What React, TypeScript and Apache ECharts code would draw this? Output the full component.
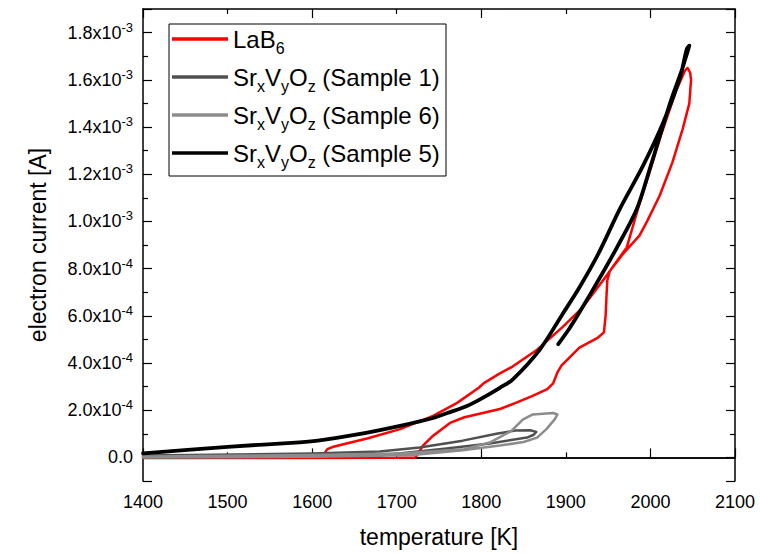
import React, { useEffect, useRef } from "react";
import * as echarts from "echarts";

const seriesNames = ["LaB6", "Sample 1", "Sample 6", "Sample 5"];
const seriesColors = ["#ff0000", "#505050", "#8c8c8c", "#000000"];
const seriesWidths = [2.5, 2.5, 2.5, 3.8];
const seriesSmooth = [0, 0, 0, 0.3];

const lab6: number[][] = [
  [1400, -3e-6], [1550, -3e-6], [1700, -2e-6], [1722, 0], [1726, 2e-5], [1731, 5e-5],
  [1743, 9.2e-5], [1763, 1.46e-4], [1780, 1.7e-4], [1798, 1.85e-4], [1822, 2.05e-4],
  [1840, 2.3e-4], [1860, 2.6e-4], [1878, 2.89e-4], [1885, 3.14e-4], [1890, 3.6e-4],
  [1895, 3.9e-4], [1916, 4.65e-4], [1937, 5.05e-4], [1945, 5.3e-4], [1947, 6.0e-4],
  [1948, 6.8e-4], [1949, 7.5e-4], [1952, 7.9e-4], [1967, 8.6e-4], [1987, 9.4e-4],
  [1996, 1.0e-3], [2011, 1.11e-3], [2026, 1.25e-3], [2038, 1.39e-3], [2046, 1.5e-3],
  [2048, 1.6e-3], [2047, 1.63e-3], [2044, 1.65e-3], [2041, 1.64e-3], [2030, 1.55e-3],
  [2012, 1.36e-3], [2000, 1.22e-3], [1985, 1.05e-3], [1972, 8.9e-4], [1948, 7.7e-4],
  [1920, 6.36e-4], [1896, 5.52e-4], [1866, 4.56e-4], [1837, 3.85e-4], [1822, 3.56e-4],
  [1803, 3.15e-4], [1797, 2.95e-4], [1771, 2.3e-4], [1743, 1.76e-4], [1704, 1.2e-4],
  [1665, 8e-5], [1625, 4.5e-5], [1618, 3.5e-5], [1615, 2e-5],
];

const sample1: number[][] = [
  [1400, 0], [1600, 3e-6], [1680, 8e-6], [1759, 3.8e-5], [1810, 5.9e-5], [1854, 8.4e-5],
  [1862, 9.6e-5], [1865, 1.08e-4], [1858, 1.15e-4], [1840, 1.14e-4], [1818, 1e-4],
  [1778, 7.1e-5], [1727, 4.2e-5], [1680, 2.5e-5], [1600, 1.6e-5], [1400, 8e-6],
];

const sample6: number[][] = [
  [1400, 4e-6], [1600, 1e-5], [1700, 1.6e-5], [1780, 3.5e-5], [1810, 6.3e-5], [1836, 1.13e-4],
  [1849, 1.6e-4], [1861, 1.82e-4], [1885, 1.88e-4], [1890, 1.82e-4], [1887, 1.62e-4],
  [1877, 1.2e-4], [1866, 8.4e-5], [1850, 6.5e-5], [1822, 5e-5], [1778, 3e-5], [1719, 1e-5],
  [1600, 3e-6], [1400, 0],
];

const sample5: number[][] = [
  [1891, 4.8e-4], [1904, 5.45e-4], [1917, 6.2e-4], [1940, 7.6e-4], [1960, 8.87e-4],
  [1984, 1.054e-3], [1999, 1.22e-3], [2011, 1.36e-3], [2025, 1.52e-3], [2037, 1.64e-3],
  [2044, 1.72e-3], [2046, 1.745e-3], [2043, 1.73e-3], [2035, 1.61e-3], [2015, 1.418e-3],
  [1991, 1.234e-3], [1964, 1.054e-3], [1938, 8.6e-4], [1916, 7.2e-4], [1896, 6.07e-4],
  [1869, 4.56e-4], [1837, 3.3e-4], [1822, 2.95e-4], [1798, 2.45e-4], [1783, 2.18e-4],
  [1760, 1.88e-4], [1743, 1.67e-4], [1704, 1.34e-4], [1650, 9.5e-5], [1609, 7.2e-5],
  [1585, 6.4e-5], [1500, 4.5e-5], [1400, 1.7e-5],
];

const seriesData = [lab6, sample1, sample6, sample5];

const FONT = "'Liberation Sans', Arial, Helvetica, sans-serif";

const legendLabels: Record<string, string> = {
  "LaB6": "{m|LaB}{s|6}",
  "Sample 1": "{m|Sr}{s|x}{m|V}{s|y}{m|O}{s|z}{m| (Sample 1)}",
  "Sample 6": "{m|Sr}{s|x}{m|V}{s|y}{m|O}{s|z}{m| (Sample 6)}",
  "Sample 5": "{m|Sr}{s|x}{m|V}{s|y}{m|O}{s|z}{m| (Sample 5)}",
};

function yLabel(v: number): string {
  const k = Math.round(v * 1e4);
  if (k === 0) return "0.0";
  if (k < 0 || k % 2 !== 0) return "";
  if (k >= 10) return `${(k / 10).toFixed(1)}x10{sup|-3}`;
  return `${k.toFixed(1)}x10{sup|-4}`;
}

const axisLine = { show: true, lineStyle: { color: "#000", width: 1.5 } };

export default function App() {
  const ref = useRef<HTMLDivElement>(null);
  useEffect(() => {
    const chart = echarts.init(ref.current!, null, { renderer: "svg" });
    const tickAxisX = (position: "top" | "bottom") => ({
      type: "value",
      position,
      min: 1400,
      max: 2100,
      interval: 200,
      axisLine,
      axisTick: { show: true, inside: true, length: 9, lineStyle: { color: "#000", width: 1.2 } },
      minorTick: { show: true, splitNumber: 2, length: 5, lineStyle: { color: "#000", width: 1.2 } },
      axisLabel: { show: false },
      splitLine: { show: false },
      minorSplitLine: { show: false },
    });
    const yBase = (position: "left" | "right", labels: boolean) => ({
      type: "value",
      position,
      min: -1e-4,
      max: 1.9e-3,
      splitNumber: 10,
      axisLine,
      axisTick: { show: true, inside: true, length: 9, lineStyle: { color: "#000", width: 1.2 } },
      minorTick: { show: true, splitNumber: 2, length: 5, lineStyle: { color: "#000", width: 1.2 } },
      splitLine: { show: false },
      minorSplitLine: { show: false },
      axisLabel: labels
        ? {
            show: true,
            showMinLabel: false,
            showMaxLabel: false,
            margin: 10,
            color: "#000",
            fontSize: 18,
            fontFamily: FONT,
            lineHeight: 24,
            formatter: yLabel,
            rich: { sup: { fontSize: 13, lineHeight: 12, verticalAlign: "top", color: "#000", fontFamily: FONT } },
          }
        : { show: false },
    });
    chart.setOption({
      animation: false,
      backgroundColor: "#fff",
      grid: { left: 143, right: 25, top: 9, bottom: 67, containLabel: false },
      xAxis: [
        {
          type: "value",
          position: "bottom",
          min: 1400,
          max: 2100,
          interval: 100,
          axisLine,
          axisTick: { show: false },
          splitLine: { show: false },
          axisLabel: {
            margin: 12,
            color: "#000",
            fontSize: 18,
            fontFamily: FONT,
            formatter: (v: number) => String(Math.round(v)),
          },
          name: "temperature [K]",
          nameLocation: "middle",
          nameGap: 44,
          nameTextStyle: { color: "#000", fontSize: 23, fontFamily: FONT },
        },
        tickAxisX("bottom"),
        tickAxisX("top"),
      ],
      yAxis: [
        {
          ...yBase("left", true),
          name: "electron current [A]",
          nameLocation: "middle",
          nameGap: 94,
          nameTextStyle: { color: "#000", fontSize: 23, fontFamily: FONT },
        },
        yBase("right", false),
      ],
      legend: {
        orient: "vertical",
        left: 172,
        top: 27,
        padding: 0,
        itemGap: 9,
        itemWidth: 56,
        itemHeight: 3.5,
        icon: "rect",
        data: seriesNames,
        formatter: (name: string) => legendLabels[name],
        textStyle: {
          color: "#000",
          fontFamily: FONT,
          rich: {
            m: { fontSize: 24, lineHeight: 34, color: "#000", fontFamily: FONT },
            s: { fontSize: 16, lineHeight: 14, verticalAlign: "bottom", color: "#000", fontFamily: FONT },
          },
        },
      },
      graphic: [
        {
          type: "rect",
          shape: { x: 169, y: 24, width: 277, height: 152 },
          style: { fill: "none", stroke: "#000", lineWidth: 1 },
          z: 100,
        },
      ],
      series: seriesNames.map((name, i) => ({
        name,
        type: "line",
        xAxisIndex: 0,
        yAxisIndex: 0,
        data: seriesData[i],
        symbol: "none",
        showSymbol: false,
        smooth: seriesSmooth[i],
        lineStyle: { color: seriesColors[i], width: seriesWidths[i], cap: "round", join: "round" },
        itemStyle: { color: seriesColors[i] },
      })),
    });
    return () => chart.dispose();
  }, []);
  return <div ref={ref} style={{ position: "fixed", left: 0, top: 0, width: 760, height: 553 }} />;
}
